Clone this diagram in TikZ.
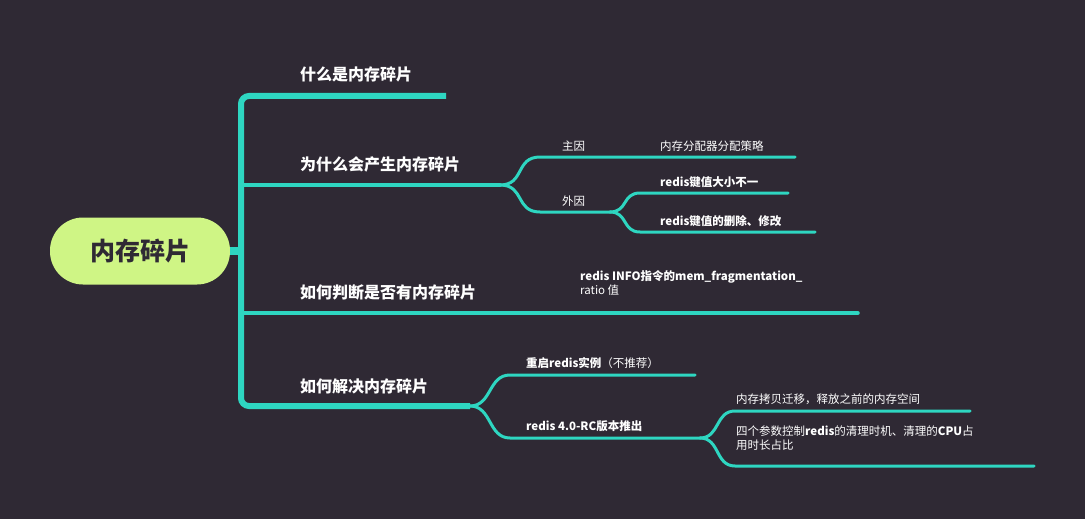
\documentclass[tikz,border=0pt]{standalone}
\usepackage{fontspec}
\setmainfont{Noto Sans CJK SC}
\begin{document}
\begin{tikzpicture}[x=1pt,y=-1pt,
  br/.style={draw=teal1,line width=3pt,line cap=round},
  l1/.style={text=white,font=\fontsize{16}{18}\selectfont\bfseries,anchor=south west,inner sep=0},
  l2/.style={text=white,font=\fontsize{11.5}{16}\selectfont,anchor=south west,inner sep=0},
  l2b/.style={text=white,font=\fontsize{11.5}{16}\selectfont\bfseries,anchor=south west,inner sep=0,align=left}]
\definecolor{bg}{HTML}{2F2934}
\definecolor{teal1}{HTML}{2ED6C1}
\definecolor{rootc}{HTML}{CFF585}
\fill[bg] (0,0) rectangle (1085,519);
\useasboundingbox (0,0) rectangle (1085,519);
% root
\node[fill=rootc,rounded corners=33pt,minimum width=180pt,minimum height=67pt,inner sep=0,
  font=\fontsize{25}{28}\selectfont\bfseries,text=bg] (root) at (140,251) {内存碎片};
\coordinate (t0) at (241,251);
\draw[teal1,line width=8pt] (root.east) -- (t0);
% trunk
\draw[teal1,line width=6pt,rounded corners=8pt] (446,96) -- (241,96) -- (241,406) -- (470,406);
\draw[br,line width=3.5pt] (241,185) -- (500,185);
\draw[br,line width=3.5pt] (241,313) -- (858,313);
% level 1 labels
\node[l1] (a) at (300,82) {什么是内存碎片};
\node[l1] (b) at (300,172) {为什么会产生内存碎片};
\node[l1] (c) at (300,300) {如何判断是否有内存碎片};
\node[l1] (d) at (300,394) {如何解决内存碎片};
% branch b
\coordinate (b0) at (500,185);
\coordinate (b1) at (540,157); \coordinate (b1e) at (795,157);
\coordinate (b2) at (540,212); \coordinate (b2e) at (610,212);
\draw[br] (b0) .. controls (525,185) and (515,157) .. (b1) -- (b1e);
\draw[br] (b0) .. controls (525,185) and (515,212) .. (b2) -- (b2e);
\node[l2] (b1t) at (562,152) {主因};
\node[l2] (b1u) at (660,152) {内存分配器分配策略};
\node[l2] (b2t) at (562,207) {外因};
\coordinate (b21) at (640,193); \coordinate (b21e) at (788,193);
\coordinate (b22) at (640,232); \coordinate (b22e) at (815,232);
\draw[br] (b2e) .. controls (628,212) and (622,193) .. (b21) -- (b21e);
\draw[br] (b2e) .. controls (628,212) and (622,232) .. (b22) -- (b22e);
\node[l2b] (b21t) at (660,188) {redis键值大小不一};
\node[l2b] (b22t) at (660,227) {redis键值的删除、修改};
% branch c
\node[l2b,anchor=north west] (ct) at (580,270) {redis INFO指令的mem\_fragmentation\_\\[-2pt]\mdseries ratio 值};
% branch d
\coordinate (d0) at (470,406);
\coordinate (d1) at (510,375); \coordinate (d1e) at (695,375);
\coordinate (d2) at (510,438); \coordinate (d2e) at (700,438);
\draw[br] (d0) .. controls (492,406) and (488,375) .. (d1) -- (d1e);
\draw[br] (d0) .. controls (492,406) and (488,438) .. (d2) -- (d2e);
\node[l2b] (d1t) at (526,369) {重启redis实例\mdseries（不推荐）};
\node[l2b] (d2t) at (526,432) {redis 4.0-RC版本推出};
\coordinate (d21) at (735,411); \coordinate (d21e) at (970,411);
\coordinate (d22) at (735,466); \coordinate (d22e) at (1034,466);
\draw[br] (d2e) .. controls (720,438) and (715,411) .. (d21) -- (d21e);
\draw[br] (d2e) .. controls (720,438) and (715,466) .. (d22) -- (d22e);
\node[l2] (d21t) at (736,405) {内存拷贝迁移，释放之前的内存空间};
\node[l2,anchor=north west,align=left] (d22t) at (736,426) {四个参数控制\textbf{redis}的清理时机、清理的\textbf{CPU}占\\[-2pt]用时长占比};
\end{tikzpicture}
\end{document}
